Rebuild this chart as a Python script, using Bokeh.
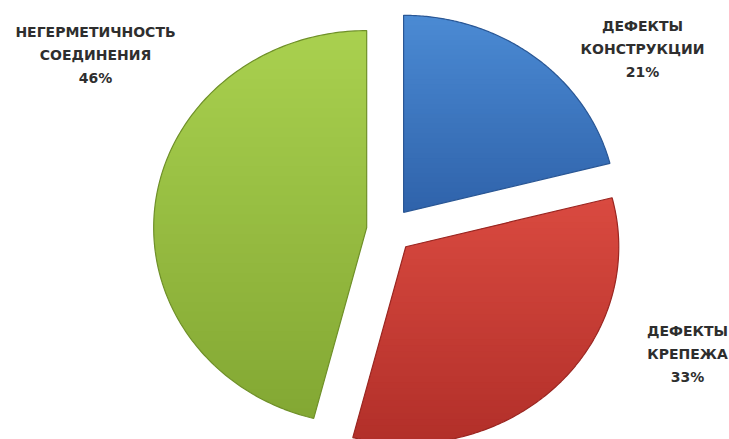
import numpy as np
from bokeh.plotting import figure
from bokeh.models import Range1d
from bokeh.embed import file_html
from bokeh.resources import INLINE
from bokeh.core.properties import value

# ---- data ----
categories = ["ДЕФЕКТЫ КОНСТРУКЦИИ", "ДЕФЕКТЫ КРЕПЕЖА", "НЕГЕРМЕТИЧНОСТЬ СОЕДИНЕНИЯ"]
label_lines = [["ДЕФЕКТЫ", "КОНСТРУКЦИИ"], ["ДЕФЕКТЫ", "КРЕПЕЖА"], ["НЕГЕРМЕТИЧНОСТЬ", "СОЕДИНЕНИЯ"]]
percents = [21, 33, 46]

# ---- style / layout ----
W, H = 729, 439
CX, CY = 389, 230
RX, RY = 213, 197
EXPLODE = 23
top_colors = ["#4b8ad4", "#d94a40", "#a9d14f"]
bottom_colors = ["#2f63aa", "#b22f29", "#83a733"]
rim_colors = ["#2a5795", "#9a2621", "#6f9029"]
label_pos = [(642, 25), (687, 330), (95, 31)]
LINE_GAP = 23
FONT = "DejaVu Sans"
FONT_SIZE = "14px"
TEXT_COLOR = "#2e2e2e"


def hex2rgb(h):
    h = h.lstrip("#")
    return np.array([int(h[i:i + 2], 16) for i in (0, 2, 4)], dtype=float)


def lerp_color(a, b, t):
    c = hex2rgb(a) * (1 - t) + hex2rgb(b) * t
    return "#%02x%02x%02x" % tuple(int(round(v)) for v in c)


def clip_half(pts, yc, keep_ge):
    out = []
    n = len(pts)
    for i in range(n):
        P = pts[i]
        Q = pts[(i + 1) % n]
        pin = P[1] >= yc if keep_ge else P[1] <= yc
        qin = Q[1] >= yc if keep_ge else Q[1] <= yc
        if pin:
            out.append(P)
        if pin != qin:
            t = (yc - P[1]) / (Q[1] - P[1])
            out.append((P[0] + t * (Q[0] - P[0]), yc))
    return out


p = figure(width=W, height=H, output_backend="svg", toolbar_location=None,
           x_range=Range1d(0, W), y_range=Range1d(H, 0), min_border=0)
p.axis.visible = False
p.grid.visible = False
p.outline_line_color = None
p.background_fill_color = "white"
p.border_fill_color = "white"

total = float(sum(percents))
cum = np.cumsum([0] + percents) / total * 2 * np.pi

for i, v in enumerate(percents):
    a0, a1 = cum[i], cum[i + 1]
    bis = (a0 + a1) / 2
    cx = CX + EXPLODE * np.sin(bis)
    cy = CY - EXPLODE * np.cos(bis)
    t = np.linspace(a0, a1, 160)
    xs = np.concatenate([[cx], cx + RX * np.sin(t)])
    ys = np.concatenate([[cy], cy - RY * np.cos(t)])
    poly = list(zip(xs, ys))
    ymin, ymax = ys.min(), ys.max()
    nb = 40
    edges = np.linspace(ymin, ymax, nb + 1)
    bxs, bys, bcol = [], [], []
    for k in range(nb):
        y0, y1 = edges[k], min(edges[k + 1] + 1.0, ymax)
        band = clip_half(clip_half(poly, y0, True), y1, False)
        if len(band) < 3:
            continue
        bxs.append([q[0] for q in band])
        bys.append([q[1] for q in band])
        bcol.append(lerp_color(top_colors[i], bottom_colors[i], (k + 0.5) / nb))
    p.patches(bxs, bys, fill_color=bcol, line_color=None)
    p.patch(xs, ys, fill_color=None, line_color=rim_colors[i], line_width=1.2)

# ---- labels ----
tx, ty, tt = [], [], []
for i, lines in enumerate(label_lines):
    x0, y0 = label_pos[i]
    rows = lines + ["%d%%" % percents[i]]
    for j, r in enumerate(rows):
        tx.append(x0)
        ty.append(y0 + j * LINE_GAP)
        tt.append(r)
p.text(x=tx, y=ty, text=tt, text_font=value(FONT), text_font_size=FONT_SIZE,
       text_font_style="bold", text_color=TEXT_COLOR, text_align="center",
       text_baseline="middle")

open("out.html", "w").write(file_html(p, INLINE))
